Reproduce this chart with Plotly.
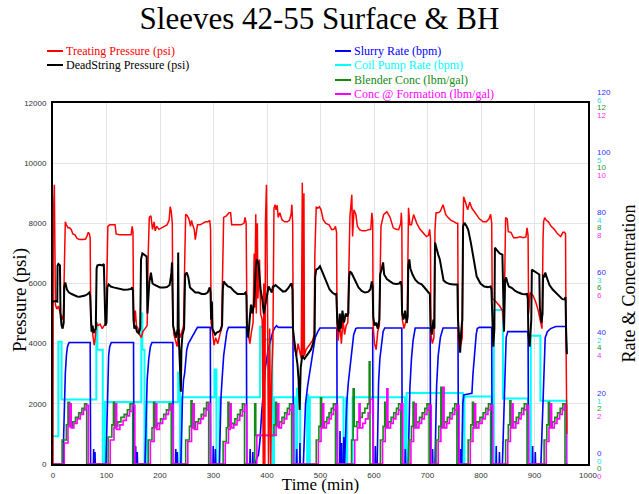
import plotly.graph_objects as go

TITLE = "Sleeves 42-55 Surface & BH"
X_TICKS = [0, 100, 200, 300, 400, 500, 600, 700, 800, 900, 1000]
P_TICKS = [0, 2000, 4000, 6000, 8000, 10000, 12000]
RATE_TICKS = [0, 20, 40, 60, 80, 100, 120]
COIL_TICKS = [0, 1, 2, 3, 4, 5, 6]
CONC_TICKS = [0, 2, 4, 6, 8, 10, 12]

# Treating pressure (psi) : (time min, value)
TREATING = [
    (0, 0), (0.5, 8100), (2.5, 9280), (4.5, 5300), (7, 5150), (10, 5250), (13, 5050), (16, 4900), (18, 4800), (19.5, 5000),
    (21, 6900), (23, 8050), (25, 7950), (28, 7850), (31, 7850), (34, 7800), (37, 7650), (41, 7620), (45, 7500), (50, 7460),
    (56, 7460), (61, 7480), (64, 7600), (66, 7700), (68, 7650), (69.5, 7500),
    (70.5, 4800), (73, 4500), (75, 4300), (77, 3950), (79, 4200), (81, 4700), (84, 4600), (88, 4650), (92, 4500), (96, 4600), (99, 4700),
    (101, 6500), (102.5, 7900), (106, 7950), (111, 7950), (116, 7950), (118, 7650), (124, 7620), (132, 7620), (140, 7620),
    (146, 7620), (148, 7900), (149.5, 7700),
    (150.5, 5200), (152, 4700), (154, 5100), (156, 4600), (159, 4500), (162, 4300), (165, 4200), (168, 4400), (172, 4500), (176, 4600),
    (178, 7000), (180, 8200), (183, 8250), (186, 7800), (189, 8050), (191, 7750), (194, 7900), (198, 7800), (203, 7850),
    (208, 7900), (213, 7950), (217, 8100), (219, 8550), (221, 8400), (223, 8000),
    (224, 4800), (226, 4300), (229, 4100), (232, 3900), (235, 4500), (238, 4200), (241, 4400), (244, 4600),
    (246.5, 7000), (248, 8300), (251, 8250), (254, 8150), (257, 7900), (259, 8100), (261, 7950), (264, 7800), (266, 7460),
    (270, 7950), (275, 7950), (280, 8000), (285, 8050), (290, 8050), (293, 8100), (294.5, 7800),
    (295.5, 4700), (298, 4400), (301, 3950), (304, 4200), (308, 4000), (312, 4300), (315, 4500),
    (317.5, 6800), (319, 8200), (324, 8250), (329, 8350), (332, 8350), (334, 7950), (339, 7950), (345, 7950), (351, 7950),
    (357, 8000), (359, 8200), (361, 8000),
    (362.5, 4700), (365, 4300), (368, 4000), (371, 4400), (374, 4700), (376, 7000), (377, 5200), (379, 8300), (380, 5000),
    (382, 8000), (383, 5500), (386, 6800), (388, 5000), (391, 4800), (393, 0), (394, 6000), (396, 0), (397, 8000),
    (399, 9280), (401, 5200), (403, 0), (405, 4500), (407, 0), (409, 3000), (411, 4000),
    (413, 8500), (415, 8620), (417, 8450), (419, 8600), (421, 8200), (424, 8350), (428, 8120), (433, 8050), (438, 8050),
    (442, 8100), (445, 8300), (446.5, 8620), (448, 8000),
    (449, 4200), (452, 3800), (455, 3600), (458, 4000), (461, 3700), (464, 3500), (466, 9350), (467, 3500), (469, 9000),
    (470, 3600), (473, 3800), (477, 3900), (481, 4000), (485, 4100), (488, 4300),
    (489.5, 7000), (492, 8550), (495, 8500), (498, 8550), (501, 8450), (505, 8120), (510, 8000), (516, 7950), (521, 7790),
    (525, 7800), (528, 7900), (530, 7700),
    (531, 4500), (533, 4100), (536, 4700), (539, 4000), (542, 4800), (545, 4300), (548, 4600), (551, 4700),
    (553, 7200), (555, 8220), (558.5, 8950), (560, 7560), (562.5, 8450), (566, 8300), (569, 7900), (573, 7790), (578, 7750),
    (584, 7750), (590, 7790), (594, 7800), (596, 8350), (597.5, 8100),
    (598.5, 4500), (601, 4000), (604, 3800), (607, 4400), (610, 4600),
    (611.5, 7000), (613, 7900), (618, 8290), (624, 8390), (630, 8200), (636, 7850), (641, 7800), (646, 7790), (650, 8000),
    (651, 8350), (652, 8000),
    (653, 4800), (656, 4500), (659, 4700), (662, 4700),
    (663.5, 7500), (664.5, 8520), (667, 7950), (670, 7950), (674, 8290), (680, 8000), (686, 7800), (692, 7690), (698, 7560),
    (702, 7600), (704, 7800), (705.5, 7500),
    (706.5, 4300), (709, 4000), (712, 4200),
    (714, 7800), (716, 8350), (720, 8350), (724, 8400), (729, 8620), (734, 8300), (738, 8200), (744, 8100), (750, 8050),
    (754, 8000), (756.5, 8000),
    (757.5, 4200), (760, 3800), (763, 4000), (765, 4200),
    (766.5, 7900), (767.5, 8880), (771, 8700), (775, 8450), (779, 8700), (783, 8500), (787, 8400), (791, 8290), (797, 8150),
    (804, 8050), (810, 8050), (815, 8150), (818, 8300), (820, 8000),
    (821, 5500), (825, 5450), (830, 5350), (835, 5250), (840, 5100), (843, 4500),
    (845, 7000), (846, 8190), (849, 8150), (851, 7720), (856, 7700), (861, 7520), (867, 7520), (873, 7550), (879, 7520),
    (884, 7550), (886, 7850), (888, 7600),
    (889, 5000), (892, 5700), (897, 5600), (902, 5400), (907, 5100), (911, 4800), (914, 4500),
    (916, 7500), (917, 8050), (919, 8190), (922, 8100), (926, 8050), (931, 7900), (937, 7800), (943, 7650), (949, 7560),
    (953, 7700), (956, 7700), (958, 7650), (959, 4000), (960.5, 1000),
]

# DeadString pressure (psi)
DEADSTRING = [
    (0, 5400), (5, 5420), (8, 5400), (8.5, 6600), (10, 6650), (13, 6600), (14, 5000), (16, 4600), (18, 4500), (20, 4700),
    (21, 5900), (23, 6030), (26, 5800), (30, 5700), (35, 5650), (40, 5600), (45, 5570), (50, 5560), (55, 5570), (60, 5600),
    (65, 5650), (68, 5700), (69.5, 5600),
    (70.5, 4700), (72, 4400), (74, 4600), (76, 4350), (78, 4450), (80, 4500), (81.5, 6500), (83, 6600), (88, 6620), (92, 6600),
    (95, 6650), (96.5, 5000), (98, 4600), (100, 4700),
    (101.5, 5870), (104, 5970), (108, 5900), (113, 5870), (118, 5850), (125, 5800), (132, 5790), (140, 5800), (146, 5820),
    (148, 5870), (149.5, 5750),
    (150.5, 4800), (152, 4500), (154, 4600), (157, 4400), (160, 4350), (163, 4500), (164.5, 6800), (167, 7000), (171, 6950),
    (175, 6900), (176.5, 5000),
    (178, 5600), (180, 6030), (183, 6360), (186, 6000), (190, 5950), (195, 5900), (200, 5870), (207, 5870), (213, 5880),
    (218, 5950), (221, 6300), (222.5, 6700), (223.5, 5800),
    (224.5, 4600), (227, 4400), (230, 4200), (233, 4500), (234, 7030), (235, 4300), (237, 3500), (239, 2400), (240, 3800),
    (242, 4300), (245, 4500),
    (247, 6300), (250, 6360), (253, 6200), (256, 5870), (261, 5800), (266, 5700), (272, 5700), (278, 5650), (284, 5650),
    (289, 5700), (293, 5870), (294.5, 5700),
    (295.5, 4800), (297, 5400), (298, 4500), (300, 4400), (303, 4300), (306, 4370), (310, 4400), (313, 4450), (316, 4600),
    (317.5, 5800), (319, 6070), (322, 6000), (327, 5900), (332, 5870), (338, 5750), (345, 5650), (352, 5640), (357, 5650),
    (360, 5700), (361.5, 5600),
    (362.5, 4500), (365, 4200), (368, 4900), (370, 5300), (373, 5000), (376, 5400), (379, 6500), (381, 6800), (384, 6700),
    (386, 6200), (388, 5800), (391, 5500), (394, 5000), (397, 5300), (400, 5600), (403, 5900), (406, 5800), (409, 5700), (411, 5900),
    (413, 5900), (416, 5950), (419, 5900), (424, 5800), (430, 5730), (435, 5750), (440, 5850), (444, 5970), (446, 6000), (447.5, 5800),
    (448.5, 4500), (451, 4100), (454, 3700), (457, 3300), (459, 2800), (461, 1800), (463, 3200), (466, 3600), (470, 3500),
    (474, 3600), (478, 3700), (482, 3800), (486, 4000), (489, 4300),
    (490, 6200), (492, 6460), (496, 6500), (499, 6570), (503, 6400), (507, 6230), (512, 6000), (517, 5800), (522, 5700),
    (527, 5640), (529.5, 5650), (530.5, 5300),
    (531.5, 4700), (534, 4400), (536, 5000), (538, 4500), (541, 5100), (544, 4700), (547, 5000), (550, 4900), (552, 5000),
    (553.5, 6200), (555, 6400), (558, 6350), (562, 6200), (566, 6050), (571, 5870), (577, 5750), (583, 5700), (589, 5720),
    (593, 5800), (596, 6070), (597.5, 5900),
    (598.5, 4900), (601, 4600), (604, 4700), (607, 4500), (610, 4800),
    (611.5, 6300), (614, 6450), (617, 6700), (619, 6300), (624, 6150), (630, 6070), (636, 6000), (642, 5980), (647, 6000),
    (650, 6070), (651.5, 5900),
    (652.5, 5000), (655, 4800), (658, 5100), (661, 4700), (663, 4900),
    (664, 6570), (666, 6800), (668, 6500), (672, 6300), (677, 6130), (683, 6020), (689, 5970), (695, 5850), (700, 5750),
    (703, 5700), (704.5, 5650),
    (705.5, 4600), (708, 4300), (711, 4800), (713, 4500),
    (714, 7360), (717, 7100), (720, 6960), (723, 6800), (726, 6500), (730, 6100), (735, 6030), (742, 5980), (749, 5970),
    (754, 5980), (756, 5970),
    (757, 4800), (759, 4000), (761, 3700), (763, 4400), (765, 4800),
    (766.5, 7900), (769, 8020), (773, 7900), (776, 7790), (781, 7360), (786, 6800), (792, 6230), (799, 6000), (806, 5900),
    (813, 5880), (818, 5900), (819.5, 5800),
    (821, 4500), (823, 3900), (825, 4500), (826, 7190), (830, 7100), (835, 7000), (840, 6960), (841.5, 5000), (843, 4400),
    (845, 6130), (847, 6200), (849, 6050), (852, 5900), (858, 5850), (864, 5750), (870, 5700), (877, 5650), (883, 5640),
    (886, 5650), (887.5, 5500),
    (888.5, 4300), (891, 3900), (894, 4800), (895, 6460), (900, 6400), (905, 6350), (909, 6300), (910, 5200), (913, 4700), (915, 5000),
    (916, 6300), (918, 6200), (920, 6360), (923, 6200), (928, 5950), (934, 5800), (940, 5700), (946, 5570), (952, 5480),
    (956, 5470), (958, 5550), (959, 4500), (960.5, 3650),
]

# Slurry rate (bpm)
SLURRY = [
    (0, 0), (19, 0), (20, 10), (21.5, 22), (23, 30), (25, 36), (27, 39), (30, 40.4), (69.5, 40.4), (70.3, 0),
    (75.5, 0), (76, 5), (76.5, 0), (78, 0), (78.5, 4), (79, 0),
    (99, 0), (100.5, 12), (102, 28), (104, 36), (106, 39), (109, 40.4), (150.5, 40.4), (151.3, 0),
    (154, 0), (154.5, 6), (155, 0), (157, 0), (157.5, 4), (158, 0),
    (172, 0), (174, 15), (176, 28), (179, 35), (182, 39), (185, 40.4), (224, 40.4), (224.8, 0),
    (229, 0), (229.5, 5), (230, 0), (232, 0), (232.5, 4), (233, 0),
    (239, 0), (240, 12), (242, 22), (244, 28), (246, 30), (248, 34), (250, 38), (253, 40), (256, 41), (260, 42), (265, 44),
    (270, 45.4), (294, 45.4), (294.8, 0),
    (299, 0), (299.5, 6), (300, 0), (303, 0), (303.5, 5), (304, 0),
    (311, 0), (312, 10), (314, 22), (316, 28), (319, 36), (322, 40), (325, 44), (328, 45.4), (361.5, 45.4), (362.3, 0),
    (368, 0), (368.5, 5), (369, 0), (373, 0), (373.5, 4), (374, 0),
    (378, 0), (381, 2), (384, 3), (387, 8), (390, 17), (394, 26), (397, 32), (402, 38), (406, 41), (411, 44), (415, 45.4),
    (418, 46), (421, 45.4), (448.5, 45.4), (449.3, 0),
    (455, 0), (455.5, 5), (456, 0), (461, 0), (461.5, 7), (462, 0),
    (468, 0), (470, 8), (472, 20), (476, 26), (480, 31), (484, 36), (490, 42), (495, 44), (499, 45.2), (530.5, 45.2), (531.3, 0),
    (536, 0), (536.5, 11), (537, 0), (539, 0), (539.5, 7), (540, 0), (543, 0), (543.5, 9), (544, 0),
    (545, 0), (547, 10), (549, 20), (552, 27), (555, 32), (558, 38), (562, 43), (566, 45), (568, 45.2), (597.5, 45.2), (598.3, 0),
    (602, 0), (602.5, 6), (603, 0),
    (606, 0), (607, 15), (608.5, 27), (611, 35), (614, 40), (617, 44), (620, 45.2), (652, 45.2), (652.8, 0),
    (658, 0), (658.5, 5), (659, 0),
    (664, 0), (665.5, 15), (667, 25), (670, 35), (673, 41), (677, 45.2), (705, 45.2), (705.8, 0),
    (709, 0), (709.5, 5), (710, 0),
    (714, 0), (715.5, 15), (717, 26), (720, 36), (724, 42), (729, 45.2), (757, 45.2), (757.8, 0),
    (761, 0), (761.5, 5), (762, 0),
    (764, 0), (765, 14), (766, 20), (768, 23), (783, 23.5), (785, 30), (788, 38), (791, 43), (793, 45), (797, 45.4),
    (820, 45.4), (820.8, 0),
    (828, 0), (828.5, 6), (829, 0), (834, 0), (834.5, 4), (835, 0),
    (840, 0), (842, 12), (844, 25), (845.5, 36), (847, 42), (850, 44), (888, 44), (888.8, 0),
    (896, 0), (896.5, 6), (897, 0), (901, 0), (901.5, 4), (902, 0),
    (912, 0), (914, 12), (916, 25), (918, 36), (920, 42), (924, 44), (930, 45), (940, 45.7), (958.5, 45.7), (960, 37),
]

# Coil pump rate (bpm), step changes
COIL = [
    (0, 0.46), (10, 2.03), (16, 1.07), (81, 2.34), (83, 1.9), (93, 0), (97, 1.03), (165, 2.5), (167, 1.9), (171, 0),
    (175, 1.03), (234, 1.52), (237.5, 0), (240, 1.11), (302, 1.57), (305.5, 0), (311, 1.11), (387, 2.28), (393, 2.07),
    (410, 0), (413, 1.11), (452, 0), (456, 1.25), (462, 0), (475, 1.15), (477, 0), (480, 1.11), (543, 0), (548, 1.1),
    (550, 0), (560, 1.11), (658, 0), (661, 1.18), (766, 0), (769, 1.12), (820, 0), (824, 2.56), (841, 1.09), (888, 0),
    (893, 2.13), (911, 1.05), (960, 0), (962, 0),
]

# Blender concentration (lbm/gal), step changes
BLENDER = [
    (0, 0),
    (17, 0.8), (25, 1.3), (28, 2.05), (31, 1.25), (36, 1.4), (42, 1.55), (48, 1.7), (54, 1.85), (59, 2.0), (63, 0),
    (103, 0.9), (110, 1.3), (113, 2.05), (115, 1.25), (121, 1.4), (127, 1.55), (133, 1.65), (139, 1.8), (144, 2.0), (149, 0),
    (178, 0.8), (185, 1.2), (188, 2.05), (190, 1.25), (195, 1.35), (201, 1.5), (207, 1.65), (212, 1.8), (217, 2.0), (221, 0),
    (248, 0.8), (255, 1.25), (258, 2.1), (260, 1.2), (266, 1.4), (272, 1.5), (277, 1.65), (282, 1.85), (287, 2.05), (291, 0),
    (318, 0.75), (324, 1.2), (327, 2.05), (329, 1.25), (334, 1.35), (340, 1.5), (345, 1.65), (350, 1.8), (354, 2.0), (358, 0),
    (377, 2.0), (379, 0.95), (413, 1.3), (416, 2.05), (418, 1.25), (423, 1.4), (428, 1.55), (433, 1.7), (438, 1.85), (442, 2.0), (446, 0),
    (492, 0.8), (497, 1.25), (500, 2.2), (502, 1.25), (507, 1.4), (512, 1.55), (516, 1.7), (520, 1.85), (524, 2.0), (528, 0),
    (558, 0.8), (561, 2.5), (563, 1.25), (568, 1.4), (573, 1.55), (578, 1.7), (583, 1.85), (588, 2.0), (591, 3.4), (592.5, 0),
    (612, 0.8), (617, 1.25), (620, 2.05), (622, 1.25), (627, 1.4), (632, 1.55), (637, 1.7), (642, 1.85), (646, 2.0), (650, 0),
    (665, 0.8), (670, 1.25), (673, 2.05), (675, 1.25), (680, 1.4), (685, 1.55), (690, 1.7), (695, 1.85), (699, 2.0), (703, 0),
    (716, 0.8), (721, 1.25), (725, 2.55), (727, 1.25), (732, 1.4), (737, 1.55), (742, 1.7), (747, 1.85), (751, 2.0), (755, 0),
    (776, 0.8), (781, 1.3), (784, 2.05), (786, 1.25), (792, 1.4), (798, 1.55), (804, 1.7), (809, 1.85), (814, 2.0), (818, 0),
    (846, 0.8), (851, 1.3), (854, 2.1), (856, 1.25), (861, 1.4), (866, 1.55), (871, 1.7), (876, 1.85), (881, 2.0), (886, 0),
    (918, 0.8), (923, 1.3), (926, 2.05), (928, 1.25), (933, 1.4), (938, 1.55), (943, 1.7), (948, 1.85), (953, 2.0), (957, 0),
    (962, 0),
]

# Concentration at formation (lbm/gal), step changes
FORMATION = [
    (0, 0),
    (21, 0.7), (28, 1.25), (31, 2.0), (34, 1.2), (39, 1.35), (45, 1.5), (51, 1.65), (57, 1.8), (62, 1.95), (66, 0),
    (107, 0.8), (114, 1.2), (117, 2.0), (119, 1.15), (125, 1.3), (131, 1.45), (137, 1.6), (143, 1.75), (148, 1.95), (153, 0),
    (182, 0.75), (189, 1.2), (192, 2.0), (194, 1.15), (199, 1.35), (205, 1.5), (211, 1.65), (216, 1.8), (220, 1.95), (225, 0),
    (252, 0.75), (259, 1.2), (262, 2.0), (264, 1.15), (270, 1.35), (276, 1.5), (281, 1.6), (286, 1.8), (290, 2.0), (294, 0),
    (322, 0.7), (328, 1.15), (331, 2.0), (333, 1.2), (338, 1.3), (344, 1.45), (349, 1.6), (354, 1.75), (358, 1.95), (362, 0),
    (381, 0.95), (417, 1.25), (420, 2.0), (422, 1.2), (427, 1.35), (432, 1.5), (437, 1.65), (442, 1.8), (446, 1.95), (450, 0),
    (496, 0.75), (501, 1.2), (504, 2.0), (506, 1.2), (511, 1.35), (516, 1.5), (520, 1.65), (524, 1.8), (528, 1.95), (532, 0),
    (564, 0.8), (569, 1.2), (572, 2.0), (574, 1.2), (579, 1.35), (584, 1.5), (589, 1.7), (593, 2.15), (598, 0),
    (616, 0.75), (621, 1.2), (624, 2.5), (626, 1.2), (631, 1.35), (636, 1.5), (641, 1.65), (646, 1.8), (650, 2.0), (654, 0),
    (669, 0.75), (674, 1.2), (677, 2.0), (679, 1.2), (684, 1.35), (689, 1.5), (694, 1.65), (699, 1.8), (703, 1.95), (707, 0),
    (720, 0.75), (725, 1.2), (729, 2.55), (731, 1.2), (736, 1.35), (741, 1.5), (746, 1.65), (751, 1.8), (755, 1.95), (759, 0),
    (780, 0.75), (785, 1.2), (788, 2.0), (790, 1.2), (796, 1.35), (802, 1.5), (808, 1.65), (813, 1.8), (818, 1.95), (822, 0),
    (850, 0.75), (855, 1.2), (858, 2.0), (860, 1.2), (865, 1.35), (870, 1.5), (875, 1.65), (880, 1.8), (885, 1.95), (889, 0),
    (922, 0.75), (927, 1.2), (930, 2.0), (932, 1.2), (937, 1.35), (942, 1.5), (947, 1.65), (952, 1.8), (956, 1.95), (960, 0),
    (962, 0),
]

SERIES_NAMES = ["Treating Pressure (psi)", "DeadString Pressure (psi)", "Slurry Rate (bpm)",
                "Coil Pump Rate (bpm)", "Blender Conc (lbm/gal)", "Conc @ Formation (lbm/gal)"]
COLORS = ["#ff0000", "#000000", "#0000ff", "#00ffff", "#138a13", "#ff00ff"]

SERIF = "Liberation Serif, Times New Roman, serif"
SANS = "Liberation Sans, Arial, sans-serif"


def xs(data):
    return [p[0] for p in data]


def ys(data):
    return [p[1] for p in data]


fig = go.Figure()
# cyan on main (right) axis, then overlays; pressure last so it is on top
fig.add_trace(go.Scatter(x=xs(COIL), y=ys(COIL), mode="lines", name=SERIES_NAMES[3], yaxis="y",
                         line=dict(color=COLORS[3], width=2, shape="hv"), showlegend=False))
fig.add_trace(go.Scatter(x=xs(SLURRY), y=ys(SLURRY), mode="lines", name=SERIES_NAMES[2], yaxis="y2",
                         line=dict(color=COLORS[2], width=1.6), showlegend=False))
fig.add_trace(go.Scatter(x=xs(BLENDER), y=ys(BLENDER), mode="lines", name=SERIES_NAMES[4], yaxis="y3",
                         line=dict(color=COLORS[4], width=1.6, shape="hv"), showlegend=False))
fig.add_trace(go.Scatter(x=xs(FORMATION), y=ys(FORMATION), mode="lines", name=SERIES_NAMES[5], yaxis="y4",
                         line=dict(color=COLORS[5], width=1.6, shape="hv"), showlegend=False))
fig.add_trace(go.Scatter(x=xs(TREATING), y=ys(TREATING), mode="lines", name=SERIES_NAMES[0], yaxis="y5",
                         line=dict(color=COLORS[0], width=1.5), showlegend=False))
fig.add_trace(go.Scatter(x=xs(DEADSTRING), y=ys(DEADSTRING), mode="lines", name=SERIES_NAMES[1], yaxis="y5",
                         line=dict(color=COLORS[1], width=2), showlegend=False))

tick_font = dict(family=SANS, size=8, color="#333333")
right_common = dict(side="right", showgrid=False, zeroline=False, showline=False, ticks="",
                    ticklabelstandoff=8, fixedrange=True, automargin=False, tickformat="d")

PLOT_L, PLOT_W, PLOT_B, PLOT_H = 53, 535, 464, 361


def px_x(v):
    return (v - PLOT_L) / PLOT_W


def px_y(v):
    return (PLOT_B - v) / PLOT_H


fig.update_layout(
    width=639, height=494,
    margin=dict(l=53, r=51, t=103, b=30, autoexpand=False),
    paper_bgcolor="white", plot_bgcolor="white",
    title=dict(text=TITLE, x=0.5, xref="container", xanchor="center", y=1 - 18 / 494, yref="container",
               yanchor="middle", font=dict(family=SERIF, size=31, color="black")),
    xaxis=dict(range=[0, 1000], tickvals=X_TICKS, showgrid=True, gridcolor="#e4e4e4", gridwidth=1,
               zeroline=False, showline=True, linecolor="black", linewidth=2, mirror=True, ticks="",
               tickfont=tick_font, ticklabelstandoff=2, automargin=False, tickformat="d",
               title=dict(text="Time (min)", font=dict(family=SERIF, size=17, color="black"), standoff=5)),
    yaxis=dict(range=[0, 6], tickvals=COIL_TICKS, tickfont=dict(family=SANS, size=8, color="#22e0e0"),
               ticklabelshift=-3, anchor="x",
               title=dict(text="Rate & Concentration", font=dict(family=SERIF, size=18, color="black"), standoff=21),
               **right_common),
    yaxis2=dict(range=[0, 120], tickvals=RATE_TICKS, tickfont=dict(family=SANS, size=8, color="#3030ff"),
                ticklabelshift=-11, overlaying="y", anchor="x", **right_common),
    yaxis3=dict(range=[0, 12], tickvals=CONC_TICKS, tickfont=dict(family=SANS, size=8, color="#2a922a"),
                ticklabelshift=4, overlaying="y", anchor="x", **right_common),
    yaxis4=dict(range=[0, 12], tickvals=CONC_TICKS, tickfont=dict(family=SANS, size=8, color="#ff30ff"),
                ticklabelshift=12, overlaying="y", anchor="x", **right_common),
    yaxis5=dict(range=[0, 12000], tickvals=P_TICKS, side="left", overlaying="y", anchor="x",
                showgrid=True, gridcolor="#e4e4e4", gridwidth=1, zeroline=False,
                showline=True, linecolor="black", linewidth=2, mirror=True, ticks="",
                tickfont=tick_font, ticklabelstandoff=3, automargin=False, tickformat="d"),
)

# left axis title (placed to match the reference position)
fig.add_annotation(text="Pressure (psi)", xref="paper", yref="paper", x=px_x(20), y=px_y(300),
                   xanchor="center", yanchor="middle", textangle=-90, showarrow=False,
                   font=dict(family=SERIF, size=19, color="black"))

# Legends (two groups) drawn as annotations with line swatches
legend_left = [(0, 51), (1, 65)]
legend_right = [(2, 51), (3, 65), (4, 80), (5, 94)]
for items, x0, x1, xt in [(legend_left, 47, 63, 64), (legend_right, 335, 351, 352)]:
    for idx, yy in items:
        fig.add_shape(type="line", xref="paper", yref="paper", x0=px_x(x0), x1=px_x(x1), y0=px_y(yy), y1=px_y(yy),
                      line=dict(color=COLORS[idx], width=2))
        fig.add_annotation(text=SERIES_NAMES[idx], xref="paper", yref="paper", x=px_x(xt), y=px_y(yy),
                           xanchor="left", yanchor="middle", showarrow=False,
                           font=dict(family=SERIF, size=12, color=COLORS[idx]))

fig.write_html("out.html", config={"displayModeBar": False},
               post_script="document.body.style.margin='0';")
